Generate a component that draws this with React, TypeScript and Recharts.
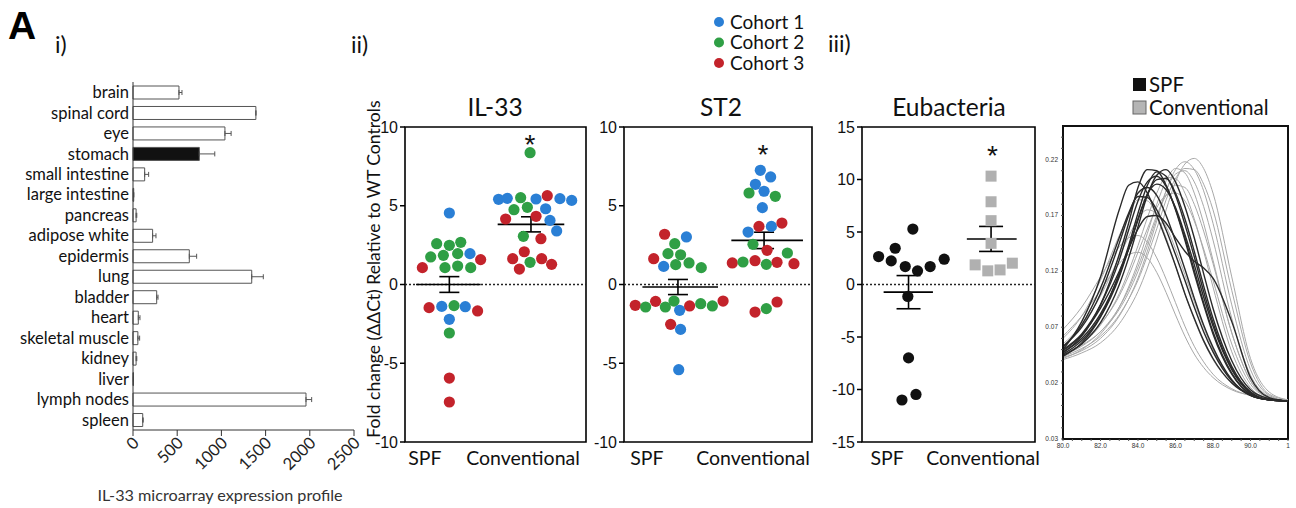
import React from 'react';
import {
  BarChart, Bar, XAxis, YAxis, ErrorBar, Cell,
  ScatterChart, Scatter, ReferenceLine, ReferenceArea,
  LineChart, Line,
} from 'recharts';

// ---------- Panel i : microarray expression ----------
const tissues = ['brain', 'spinal cord', 'eye', 'stomach', 'small intestine', 'large intestine', 'pancreas', 'adipose white', 'epidermis', 'lung', 'bladder', 'heart', 'skeletal muscle', 'kidney', 'liver', 'lymph nodes', 'spleen'];
const tissueExpression = [520, 1390, 1040, 750, 132, 8, 35, 222, 637, 1343, 268, 60, 55, 35, 5, 1957, 110];
const tissueSem = [34, 0, 70, 175, 45, 0, 8, 38, 83, 131, 15, 19, 20, 8, 0, 64, 5];
const highlightedTissue = 'stomach';
const expressionTicks = [0, 500, 1000, 1500, 2000, 2500];

// ---------- Panel ii : qPCR dot plots ----------
const groupLabels = ['SPF', 'Conventional'];
const cohortNames = ['Cohort 1', 'Cohort 2', 'Cohort 3'];
const cohortColors = ['#2a7fd5', '#2f9f45', '#c3232b'];

const il33Spf = [
  { x: 0.245, y: 4.54, c: 1 }, { x: 0.175, y: 2.59, c: 2 }, { x: 0.245, y: 2.49, c: 2 }, { x: 0.308, y: 2.68, c: 2 },
  { x: 0.142, y: 1.75, c: 2 }, { x: 0.212, y: 1.85, c: 2 }, { x: 0.291, y: 1.96, c: 2 }, { x: 0.359, y: 1.96, c: 1 },
  { x: 0.418, y: 1.58, c: 3 }, { x: 0.096, y: 1.07, c: 3 }, { x: 0.221, y: 1.07, c: 2 }, { x: 0.291, y: 1.17, c: 2 },
  { x: 0.363, y: 1.07, c: 2 }, { x: 0.133, y: -1.47, c: 3 }, { x: 0.203, y: -1.39, c: 1 }, { x: 0.271, y: -1.34, c: 2 },
  { x: 0.333, y: -1.41, c: 1 }, { x: 0.401, y: -1.68, c: 3 }, { x: 0.245, y: -2.21, c: 1 }, { x: 0.245, y: -3.08, c: 2 },
  { x: 0.245, y: -5.94, c: 3 }, { x: 0.245, y: -7.46, c: 3 },
];
const il33Conv = [
  { x: 0.691, y: 8.37, c: 2 }, { x: 0.517, y: 5.41, c: 1 }, { x: 0.565, y: 5.47, c: 1 }, { x: 0.639, y: 5.51, c: 2 },
  { x: 0.724, y: 5.43, c: 1 }, { x: 0.786, y: 5.64, c: 3 }, { x: 0.856, y: 5.45, c: 1 }, { x: 0.921, y: 5.34, c: 1 },
  { x: 0.602, y: 4.75, c: 2 }, { x: 0.676, y: 4.90, c: 2 }, { x: 0.777, y: 4.81, c: 1 }, { x: 0.556, y: 4.16, c: 3 },
  { x: 0.724, y: 4.33, c: 3 }, { x: 0.801, y: 4.07, c: 1 }, { x: 0.838, y: 3.40, c: 1 }, { x: 0.654, y: 3.06, c: 2 },
  { x: 0.751, y: 2.91, c: 3 }, { x: 0.595, y: 1.64, c: 3 }, { x: 0.659, y: 2.08, c: 3 }, { x: 0.755, y: 1.64, c: 3 },
  { x: 0.691, y: 1.41, c: 2 }, { x: 0.632, y: 0.98, c: 3 }, { x: 0.810, y: 1.28, c: 3 },
];
const il33Means = [
  { x: 0.245, y: 0.0, sem: 0.5, from: 0.061, to: 0.418 },
  { x: 0.696, y: 3.82, sem: 0.48, from: 0.512, to: 0.880 },
];
const il33Star = [{ x: 0.691, y: 9.26 }];
const il33LabelX = [0.11, 0.652];

const st2Spf = [
  { x: 0.216, y: 3.19, c: 3 }, { x: 0.332, y: 3.02, c: 1 }, { x: 0.270, y: 2.59, c: 2 }, { x: 0.234, y: 1.96, c: 2 },
  { x: 0.301, y: 1.89, c: 2 }, { x: 0.158, y: 1.64, c: 3 }, { x: 0.211, y: 1.15, c: 1 }, { x: 0.275, y: 1.26, c: 2 },
  { x: 0.346, y: 1.37, c: 2 }, { x: 0.411, y: 1.07, c: 2 }, { x: 0.060, y: -1.32, c: 3 }, { x: 0.115, y: -1.43, c: 2 },
  { x: 0.168, y: -1.07, c: 3 }, { x: 0.220, y: -1.43, c: 2 }, { x: 0.266, y: -1.05, c: 2 }, { x: 0.296, y: -1.64, c: 1 },
  { x: 0.349, y: -1.36, c: 3 }, { x: 0.408, y: -1.22, c: 2 }, { x: 0.470, y: -1.36, c: 2 }, { x: 0.527, y: -1.05, c: 3 },
  { x: 0.248, y: -2.53, c: 3 }, { x: 0.301, y: -2.85, c: 1 }, { x: 0.291, y: -5.41, c: 1 },
];
const st2Conv = [
  { x: 0.725, y: 7.25, c: 1 }, { x: 0.780, y: 6.83, c: 1 }, { x: 0.699, y: 6.36, c: 1 }, { x: 0.745, y: 5.92, c: 1 },
  { x: 0.665, y: 5.81, c: 2 }, { x: 0.805, y: 5.60, c: 2 }, { x: 0.736, y: 4.88, c: 1 }, { x: 0.718, y: 3.69, c: 3 },
  { x: 0.784, y: 3.69, c: 1 }, { x: 0.840, y: 3.90, c: 3 }, { x: 0.660, y: 3.33, c: 1 }, { x: 0.686, y: 2.55, c: 2 },
  { x: 0.761, y: 2.17, c: 3 }, { x: 0.869, y: 2.00, c: 2 }, { x: 0.576, y: 1.37, c: 3 }, { x: 0.633, y: 1.43, c: 2 },
  { x: 0.697, y: 1.51, c: 3 }, { x: 0.757, y: 1.28, c: 2 }, { x: 0.814, y: 1.41, c: 3 }, { x: 0.904, y: 1.32, c: 3 },
  { x: 0.697, y: -1.75, c: 3 }, { x: 0.757, y: -1.53, c: 2 }, { x: 0.814, y: -1.11, c: 3 },
];
const st2Means = [
  { x: 0.287, y: -0.16, sem: 0.48, from: 0.098, to: 0.50 },
  { x: 0.745, y: 2.80, sem: 0.52, from: 0.571, to: 0.952 },
];
const st2Star = [{ x: 0.739, y: 8.62 }];
const st2LabelX = [0.122, 0.686];

// ---------- Panel iii : Eubacteria ----------
const eubSpf = [
  { x: 0.096, y: 2.66 }, { x: 0.169, y: 2.25 }, { x: 0.192, y: 3.45 }, { x: 0.25, y: 1.71 },
  { x: 0.294, y: 5.28 }, { x: 0.321, y: 1.30 }, { x: 0.394, y: 1.71 }, { x: 0.475, y: 2.41 },
  { x: 0.265, y: -1.14 }, { x: 0.269, y: -6.99 }, { x: 0.231, y: -11.0 }, { x: 0.312, y: -10.47 },
];
const eubConv = [
  { x: 0.746, y: 10.32 }, { x: 0.746, y: 7.88 }, { x: 0.746, y: 6.08 }, { x: 0.746, y: 3.92 },
  { x: 0.654, y: 1.87 }, { x: 0.727, y: 1.30 }, { x: 0.798, y: 1.39 }, { x: 0.869, y: 2.03 },
];
const eubMeans = [
  { x: 0.269, y: -0.73, sem: 1.58, from: 0.125, to: 0.41 },
  { x: 0.746, y: 4.34, sem: 1.19, from: 0.606, to: 0.894 },
];
const eubStar = [{ x: 0.754, y: 12.78 }];
const eubLabelX = [0.145, 0.70];

// ---------- Melt curves ----------
const meltTemps = [80, 81, 82, 83, 83.5, 84, 84.5, 85, 85.5, 86, 86.5, 87, 87.5, 88, 89, 90, 91, 92];
const spfCurves = [
  [0.050, 0.075, 0.115, 0.175, 0.197, 0.200, 0.190, 0.170, 0.148, 0.125, 0.100, 0.078, 0.058, 0.042, 0.020, 0.009, 0.005, 0.004],
  [0.047, 0.062, 0.090, 0.135, 0.163, 0.195, 0.211, 0.210, 0.197, 0.175, 0.148, 0.118, 0.090, 0.064, 0.028, 0.010, 0.005, 0.004],
  [0.046, 0.058, 0.080, 0.118, 0.143, 0.172, 0.197, 0.209, 0.205, 0.188, 0.162, 0.133, 0.102, 0.074, 0.033, 0.012, 0.005, 0.004],
  [0.045, 0.055, 0.074, 0.108, 0.132, 0.160, 0.188, 0.206, 0.211, 0.200, 0.178, 0.150, 0.118, 0.087, 0.040, 0.014, 0.006, 0.004],
  [0.048, 0.060, 0.082, 0.117, 0.140, 0.166, 0.189, 0.202, 0.203, 0.190, 0.167, 0.138, 0.107, 0.078, 0.035, 0.012, 0.005, 0.004],
  [0.052, 0.072, 0.105, 0.150, 0.172, 0.187, 0.186, 0.175, 0.157, 0.135, 0.112, 0.088, 0.066, 0.048, 0.022, 0.009, 0.005, 0.004],
  [0.049, 0.063, 0.087, 0.120, 0.140, 0.158, 0.169, 0.170, 0.163, 0.150, 0.138, 0.129, 0.123, 0.114, 0.075, 0.025, 0.007, 0.004],
  [0.050, 0.064, 0.090, 0.130, 0.157, 0.183, 0.200, 0.205, 0.196, 0.176, 0.150, 0.121, 0.092, 0.066, 0.029, 0.010, 0.005, 0.004],
  [0.044, 0.056, 0.079, 0.115, 0.140, 0.167, 0.189, 0.198, 0.193, 0.177, 0.153, 0.126, 0.097, 0.071, 0.032, 0.011, 0.005, 0.004],
  [0.053, 0.070, 0.100, 0.145, 0.170, 0.190, 0.195, 0.188, 0.170, 0.147, 0.122, 0.096, 0.072, 0.052, 0.023, 0.009, 0.005, 0.004],
];
const convCurves = [
  [0.042, 0.050, 0.064, 0.088, 0.106, 0.128, 0.154, 0.180, 0.201, 0.212, 0.208, 0.190, 0.163, 0.130, 0.065, 0.022, 0.007, 0.004],
  [0.043, 0.049, 0.060, 0.080, 0.095, 0.114, 0.138, 0.165, 0.192, 0.211, 0.218, 0.211, 0.192, 0.163, 0.090, 0.032, 0.009, 0.004],
  [0.041, 0.047, 0.056, 0.073, 0.086, 0.102, 0.123, 0.148, 0.175, 0.200, 0.216, 0.221, 0.212, 0.190, 0.115, 0.042, 0.012, 0.005],
  [0.044, 0.051, 0.062, 0.081, 0.095, 0.112, 0.134, 0.158, 0.184, 0.203, 0.212, 0.211, 0.198, 0.175, 0.103, 0.038, 0.010, 0.005],
  [0.045, 0.053, 0.066, 0.088, 0.104, 0.124, 0.147, 0.170, 0.188, 0.197, 0.195, 0.180, 0.156, 0.127, 0.065, 0.022, 0.007, 0.004],
  [0.060, 0.080, 0.112, 0.152, 0.170, 0.184, 0.183, 0.170, 0.150, 0.125, 0.100, 0.077, 0.057, 0.041, 0.020, 0.010, 0.006, 0.004],
  [0.068, 0.088, 0.115, 0.142, 0.150, 0.152, 0.146, 0.132, 0.113, 0.092, 0.071, 0.053, 0.039, 0.028, 0.015, 0.009, 0.006, 0.004],
  [0.062, 0.080, 0.103, 0.127, 0.135, 0.137, 0.132, 0.119, 0.101, 0.081, 0.062, 0.046, 0.034, 0.025, 0.014, 0.009, 0.006, 0.004],
  [0.046, 0.055, 0.072, 0.100, 0.120, 0.143, 0.168, 0.190, 0.204, 0.203, 0.190, 0.167, 0.138, 0.106, 0.048, 0.016, 0.006, 0.004],
  [0.050, 0.058, 0.073, 0.098, 0.116, 0.137, 0.158, 0.177, 0.188, 0.190, 0.183, 0.165, 0.140, 0.112, 0.055, 0.019, 0.007, 0.004],
  [0.055, 0.072, 0.098, 0.133, 0.151, 0.167, 0.175, 0.172, 0.160, 0.140, 0.117, 0.093, 0.070, 0.050, 0.022, 0.010, 0.006, 0.004],
  [0.047, 0.054, 0.066, 0.086, 0.101, 0.120, 0.143, 0.168, 0.192, 0.207, 0.210, 0.200, 0.178, 0.148, 0.078, 0.027, 0.008, 0.004],
];
const meltXTicks = [80, 80.5, 81, 81.5, 82, 82.5, 83, 83.5, 84, 84.5, 85, 85.5, 86, 86.5, 87, 87.5, 88, 88.5, 89, 89.5, 90, 90.5, 91, 91.5, 92];
const meltXLabels: Record<string, string> = { '80': '80.0', '82': '82.0', '84': '84.0', '86': '86.0', '88': '88.0', '90': '90.0', '92': '1' };
const meltYTicks = [-0.03, -0.02, -0.01, 0, 0.01, 0.02, 0.03, 0.04, 0.05, 0.06, 0.07, 0.08, 0.09, 0.10, 0.11, 0.12, 0.13, 0.14, 0.15, 0.16, 0.17, 0.18, 0.19, 0.20, 0.21, 0.22, 0.23, 0.24];
const meltYLabels: Record<string, string> = { '-0.03': '0.03', '0.02': '0.02', '0.07': '0.07', '0.12': '0.12', '0.17': '0.17', '0.22': '0.22' };

const tissueData = tissues.map((name, i) => ({ name, value: tissueExpression[i], err: [0, tissueSem[i]] }));
const meltData = meltTemps.map((t, i) => {
  const row: Record<string, number> = { t };
  spfCurves.forEach((c, j) => { row['s' + j] = c[i]; });
  convCurves.forEach((c, j) => { row['c' + j] = c[i]; });
  return row;
});

const CAL = 'Lato, "Open Sans", sans-serif';
const ARI = '"Liberation Sans", Arial, sans-serif';

const RotTick = (props: any) => {
  const { x, y, payload } = props;
  const ax = x + 7;
  const ay = y + 6;
  return (
    <text x={ax} y={ay} transform={`rotate(-45 ${ax} ${ay})`} textAnchor="end" fontSize={16.5} fontFamily={CAL} fill="#222">
      {payload.value}
    </text>
  );
};

const cohortDot = (props: any) => {
  const { cx, cy, payload } = props;
  if (cx == null || cy == null) return <g />;
  return <circle cx={cx} cy={cy} r={5.6} fill={cohortColors[payload.c - 1]} />;
};
const blackDot = (props: any) => {
  const { cx, cy } = props;
  if (cx == null || cy == null) return <g />;
  return <circle cx={cx} cy={cy} r={5.6} fill="#111" />;
};
const graySquare = (props: any) => {
  const { cx, cy } = props;
  if (cx == null || cy == null) return <g />;
  return <rect x={cx - 5.5} y={cy - 5.5} width={11} height={11} fill="#b0b0b0" />;
};
const starShape = (props: any) => {
  const { cx, cy } = props;
  if (cx == null || cy == null) return <g />;
  return <text x={cx} y={cy + 15} textAnchor="middle" fontSize={28} fontFamily={ARI} fill="#111">*</text>;
};
const noShape = () => <g />;

type DotPanelProps = {
  left: number; width: number; yWidth: number; right: number;
  domain: [number, number]; yTicks: number[]; labelX: number[];
  groups: { data: any[]; shape: any }[];
  means: any[]; star: any[]; cap: number;
};

function DotPanel(p: DotPanelProps) {
  return (
    <div style={{ position: 'absolute', left: p.left, top: 90 }}>
      <ScatterChart width={p.width} height={390} margin={{ top: 37, right: p.right, bottom: 0, left: 0 }}>
        <XAxis type="number" dataKey="x" domain={[0, 1]} ticks={p.labelX} interval={0}
          tickFormatter={(v: number) => groupLabels[p.labelX.indexOf(v)]}
          axisLine={false} tickLine={false} tickSize={0} tickMargin={9} height={38}
          tick={{ fontSize: 19.5, fontFamily: CAL, fill: '#111' }} allowDataOverflow />
        <YAxis type="number" dataKey="y" domain={p.domain} ticks={p.yTicks} interval={0} width={p.yWidth}
          axisLine={false} tickSize={5} tickMargin={2} tickLine={{ stroke: '#000', strokeWidth: 1.5 }}
          tick={{ fontSize: 16, fontFamily: ARI, fill: '#111' }} allowDataOverflow />
        <ReferenceArea x1={0} x2={1} y1={p.domain[0]} y2={p.domain[1]} fill="none" fillOpacity={0} stroke="#000" strokeWidth={1.6} ifOverflow="visible" />
        <ReferenceLine y={0} stroke="#222" strokeDasharray="2 2" strokeWidth={1.3} />
        {p.groups.map((g, i) => (
          <Scatter key={i} data={g.data} shape={g.shape} isAnimationActive={false} />
        ))}
        {p.means.map((m, i) => (
          <ReferenceLine key={'m' + i} segment={[{ x: m.from, y: m.y }, { x: m.to, y: m.y }]} stroke="#000" strokeWidth={1.6} />
        ))}
        <Scatter data={p.means} shape={noShape} isAnimationActive={false}>
          <ErrorBar dataKey="sem" direction="y" width={p.cap} stroke="#000" strokeWidth={1.6} />
        </Scatter>
        <Scatter data={p.star} shape={starShape} isAnimationActive={false} />
      </ScatterChart>
    </div>
  );
}

const MeltXTick = (props: any) => {
  const { x, y, payload } = props;
  const lbl = meltXLabels[String(payload.value)];
  if (!lbl) return <g />;
  return <text x={x} y={y + 5} textAnchor="middle" fontSize={6.5} fontFamily={ARI} fill="#333">{lbl}</text>;
};
const MeltYTick = (props: any) => {
  const { x, y, payload } = props;
  const lbl = meltYLabels[String(Math.round(payload.value * 100) / 100)];
  if (!lbl) return <g />;
  return <text x={x - 1} y={y + 2} textAnchor="end" fontSize={6.5} fontFamily={ARI} fill="#333">{lbl}</text>;
};

export default function App() {
  return (
    <div style={{ position: 'absolute', left: 0, top: 0, width: 1296, height: 508, background: '#fff', overflow: 'hidden' }}>
      {/* Panel i */}
      <div style={{ position: 'absolute', left: 0, top: 0 }}>
        <BarChart width={380} height={508} layout="vertical" data={tissueData}
          margin={{ top: 82, right: 26, bottom: 0, left: 0 }}>
          <XAxis type="number" domain={[0, 2500]} ticks={expressionTicks} interval={0} height={78}
            axisLine={{ stroke: '#333' }} tickLine={{ stroke: '#333' }} tickSize={6} tick={<RotTick />} />
          <YAxis type="category" dataKey="name" width={133} interval={0}
            axisLine={{ stroke: '#333' }} tickLine={false} tickSize={0} tickMargin={4}
            tick={{ fontSize: 16.5, fontFamily: CAL, fill: '#111' }} />
          <Bar dataKey="value" barSize={13} stroke="#555" strokeWidth={1} isAnimationActive={false}>
            {tissueData.map((d) => (
              <Cell key={d.name} fill={d.name === highlightedTissue ? '#111' : '#fff'} />
            ))}
            <ErrorBar dataKey="err" direction="x" width={2.5} stroke="#555" strokeWidth={1} />
          </Bar>
        </BarChart>
      </div>

      <DotPanel left={340} width={260} yWidth={65} right={14} domain={[-10, 10]} yTicks={[-10, -5, 0, 5, 10]}
        labelX={il33LabelX}
        groups={[{ data: il33Spf, shape: cohortDot }, { data: il33Conv, shape: cohortDot }]}
        means={il33Means} star={il33Star} cap={10} />
      <DotPanel left={574} width={250} yWidth={50} right={12} domain={[-10, 10]} yTicks={[-10, -5, 0, 5, 10]}
        labelX={st2LabelX}
        groups={[{ data: st2Spf, shape: cohortDot }, { data: st2Conv, shape: cohortDot }]}
        means={st2Means} star={st2Star} cap={10} />
      <DotPanel left={812} width={235} yWidth={50} right={12} domain={[-15, 15]} yTicks={[-15, -10, -5, 0, 5, 10, 15]}
        labelX={eubLabelX}
        groups={[{ data: eubSpf, shape: blackDot }, { data: eubConv, shape: graySquare }]}
        means={eubMeans} star={eubStar} cap={12} />

      {/* Melt curves */}
      <div style={{ position: 'absolute', left: 1030, top: 100 }}>
        <LineChart width={266} height={360} data={meltData} margin={{ top: 26, right: 8, bottom: 0, left: 0 }}>
          <XAxis type="number" dataKey="t" domain={[80, 92]} ticks={meltXTicks} interval={0} height={21}
            axisLine={{ stroke: '#111', strokeWidth: 2 }} tickLine={{ stroke: '#555' }} tickSize={2} tick={<MeltXTick />} />
          <YAxis type="number" domain={[-0.03, 0.25]} ticks={meltYTicks} interval={0} width={33}
            axisLine={{ stroke: '#111', strokeWidth: 2 }} tickLine={{ stroke: '#555' }} tickSize={2} tick={<MeltYTick />} allowDataOverflow />
          <ReferenceArea x1={80} x2={92} y1={-0.03} y2={0.25} fill="none" fillOpacity={0} stroke="#111" strokeWidth={2} ifOverflow="visible" />
          {convCurves.map((_, j) => (
            <Line key={'c' + j} dataKey={'c' + j} type="monotone" stroke="#a8a8a8" strokeWidth={1} dot={false} isAnimationActive={false} />
          ))}
          {spfCurves.map((_, j) => (
            <Line key={'s' + j} dataKey={'s' + j} type="monotone" stroke="#2a2a2a" strokeWidth={1.4} dot={false} isAnimationActive={false} />
          ))}
        </LineChart>
      </div>

      {/* Text overlay */}
      <svg width={1296} height={508} style={{ position: 'absolute', left: 0, top: 0, pointerEvents: 'none' }}>
        <text x={8} y={39} fontSize={39} fontWeight="bold" fontFamily={ARI} fill="#000">A</text>
        <text x={55} y={53} fontSize={23} fontFamily={CAL} fill="#111">i)</text>
        <text x={351} y={53} fontSize={23} fontFamily={CAL} fill="#111">ii)</text>
        <text x={828} y={52} fontSize={23} fontFamily={CAL} fill="#111">iii)</text>
        <text x={495} y={116} fontSize={24.5} fontFamily={CAL} fill="#111" textAnchor="middle">IL-33</text>
        <text x={721} y={116} fontSize={24.5} fontFamily={CAL} fill="#111" textAnchor="middle">ST2</text>
        <text x={949} y={116} fontSize={24.5} fontFamily={CAL} fill="#111" textAnchor="middle">Eubacteria</text>
        <text x={373} y={269} fontSize={17.6} fontFamily={CAL} fill="#111" textAnchor="middle" dominantBaseline="central"
          transform="rotate(-90 373 269)">Fold change (ΔΔCt) Relative to WT Controls</text>
        <text x={220} y={501} fontSize={16.2} fontFamily={CAL} fill="#333" textAnchor="middle">IL-33 microarray expression profile</text>
        {cohortNames.map((n, i) => (
          <g key={n}>
            <circle cx={719} cy={22 + i * 20.5} r={5} fill={cohortColors[i]} />
            <text x={730} y={28.5 + i * 20.5} fontSize={19} fontFamily={CAL} fill="#111">{n}</text>
          </g>
        ))}
        <rect x={1133} y={78} width={13} height={13} fill="#111" />
        <text x={1149} y={92} fontSize={20.5} fontFamily={CAL} fill="#111">SPF</text>
        <rect x={1133} y={101} width={13} height={13} fill="#b5b5b5" stroke="#666" strokeWidth={1} />
        <text x={1149} y={115} fontSize={20.5} fontFamily={CAL} fill="#111">Conventional</text>
      </svg>
    </div>
  );
}
